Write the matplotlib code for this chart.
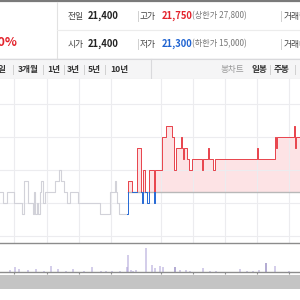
import matplotlib
matplotlib.use("Agg")
import matplotlib.pyplot as plt
from matplotlib.patches import Rectangle
import numpy as np

plt.rcParams['font.family'] = ['Noto Sans CJK KR', 'DejaVu Sans']

# header values
prev_close = "21,400"
open_price = "21,400"
high_price = "21,750"
low_price = "21,300"
upper_limit = "(상한가 27,800)"
lower_limit = "(하한가 15,000)"
change_pct = "0.40%"
period_tabs = ["6일", "3개월", "1년", "3년", "5년", "10년"]
chart_tabs = ["일봉", "주봉"]

REF = 21400  # reference price line

# earlier days (grey step line): time index, price
grey_x = [0, 3, 7, 14, 22, 24, 28, 33, 34, 35, 37, 38, 40, 41, 43, 45, 55, 59, 61,
          64, 67, 70, 78, 100, 110, 115, 116, 117, 119, 127]
grey_p = [21400, 21300, 21400, 21300, 21200, 21500, 21300, 21200, 21400, 21200,
          21300, 21200, 21400, 21500, 21300, 21400, 21500, 21600, 21500,
          21400, 21300, 21400, 21300, 21200, 21400, 21500, 21400, 21300, 21200, 21200]

# current session (red above reference, blue below)
cur_x = [127, 128, 132, 135, 137, 141, 142, 143, 145, 147, 149, 154, 155, 162, 166,
         172, 174, 176, 181, 182, 183, 184, 187, 189, 192, 202, 203, 208, 209, 213,
         215, 257, 258, 275, 276, 277, 294, 295, 296, 300]
cur_p = [21200, 21500, 21400, 21400, 21800, 21400, 21300, 21600, 21400, 21300,
         21600, 21300, 21600, 21900, 22000, 21900, 21600, 21800, 21900, 21800,
         21700, 21800, 21700, 21600, 21700, 21600, 21700, 21800, 21700, 21600,
         21700, 21800, 21700, 21900, 21800, 21900, 22000, 21800, 21900, 21900]

# volume bars
vol_x = [10, 15, 19, 28, 36, 44, 51, 58, 66, 73, 84, 92, 101, 106, 112, 120, 127, 128,
         131, 133, 136, 146, 152, 155, 160, 163, 175, 180, 186, 190, 203, 210, 216,
         240, 247, 253, 259, 266, 275, 289]
vol_v = [2, 5, 3, 2, 3, 1, 6, 3, 1, 3, 1, 5, 1, 1, 1, 1, 5, 17,
         2, 1, 2, 24, 7, 4, 6, 5, 5, 2, 2, 1, 4, 1, 1,
         3, 1, 1, 2, 9, 6, 1]
vol_dark = [175, 266]

grid_x = [14, 47, 79, 111, 161, 193, 225, 257, 289]
grid_y = [21000, 21300, 21600, 21900, 22200]

RED = '#e8424b'
BLUE = '#2468d4'

fig = plt.figure(figsize=(3, 3), dpi=100, facecolor='white')

# header / frame drawn in pixel space
hdr = fig.add_axes([0, 0, 1, 1], zorder=0)
hdr.set_xlim(0, 300)
hdr.set_ylim(300, 0)
hdr.axis('off')

hdr.plot([0, 300], [0.7, 0.7], color='#7a7a7a', lw=1.6)
hdr.plot([56.5, 56.5], [2, 58], color='#e2e2e2', lw=0.8)
hdr.plot([56.5, 300], [29.5, 29.5], color='#ececec', lw=0.8)
hdr.text(17, 42, change_pct, color='#e3222b', fontsize=9, fontweight='bold', ha='right', va='center')

for yy, lab1, v1, lab2, v2, c2, lim in [(16, "전일", prev_close, "고가", high_price, '#e3222b', upper_limit),
                                        (44, "시가", open_price, "저가", low_price, '#1f63d1', lower_limit)]:
    hdr.text(68, yy, lab1, color='#444444', fontsize=6.3, va='center')
    hdr.text(88, yy, v1, color='#222222', fontsize=6.8, fontweight='bold', va='center')
    hdr.plot([137.5, 137.5], [yy - 5, yy + 5], color='#d0d0d0', lw=0.7)
    hdr.text(140, yy, lab2, color='#444444', fontsize=6.3, va='center')
    hdr.text(162, yy, v2, color=c2, fontsize=6.8, fontweight='bold', va='center')
    hdr.text(192, yy, lim, color='#777777', fontsize=5.9, va='center')
    hdr.plot([280.5, 280.5], [yy - 5, yy + 5], color='#d0d0d0', lw=0.7)
    hdr.text(284, yy, "거래량" if yy < 30 else "거래대금", color='#444444', fontsize=6.3, va='center')

# tab bar
hdr.add_patch(Rectangle((0, 58), 300, 21, facecolor='#f5f5f6', edgecolor='none'))
hdr.plot([0, 300], [58.5, 58.5], color='#d9d9dc', lw=0.8)
hdr.plot([0, 300], [78.5, 78.5], color='#d9d9dc', lw=0.8)
hdr.plot([150.5, 150.5], [58.5, 78.5], color='#d9d9dc', lw=0.8)
tab_pos = [7, 18, 47, 67, 88, 110]
for i, (t, px) in enumerate(zip(period_tabs, tab_pos)):
    hdr.text(px, 69.5, t, color='#333333', fontsize=6.2, va='center',
             ha='right' if i == 0 else 'left', fontweight='bold')
for sx in [12, 42, 63, 83, 104]:
    hdr.plot([sx + 0.5, sx + 0.5], [65, 74], color='#d0d0d0', lw=0.7)
hdr.text(221, 69.5, "봉차트", color='#999999', fontsize=6.2, va='center')
hdr.text(251, 69.5, chart_tabs[0], color='#333333', fontsize=6.2, va='center', fontweight='bold')
hdr.text(274, 69.5, chart_tabs[1], color='#333333', fontsize=6.2, va='center', fontweight='bold')
for sx in [269, 294]:
    hdr.plot([sx + 0.5, sx + 0.5], [65, 74], color='#d0d0d0', lw=0.7)

# grey scroll band
hdr.add_patch(Rectangle((0, 275), 300, 14, facecolor='#c4c4c4', edgecolor='none'))

# price chart
ax = fig.add_axes([0, 57 / 300, 1, 164 / 300], zorder=2)
ax.set_xlim(0, 300)
ax.set_ylim(20936, 22427)
ax.set_xticks(grid_x)
ax.set_yticks(grid_y)
ax.grid(True, color='#ececef', lw=0.8)
ax.tick_params(length=0, labelbottom=False, labelleft=False)
for s in ['top', 'left', 'right']:
    ax.spines[s].set_visible(False)
ax.spines['bottom'].set_color('#8c8c8c')
ax.spines['bottom'].set_linewidth(1.0)

ax.step(grey_x, grey_p, where='post', color='#d2d2d9', lw=0.8)

cx = np.array(cur_x)
cp = np.array(cur_p)
fill = ax.fill_between(cx, cp, REF, step='post', color='#fde3e5', lw=0)
fill.set_clip_path(Rectangle((0, REF), 300, 2000, transform=ax.transData))
ax.hlines(REF, 128, 300, color='#b8b8b8', lw=1.0)
red_line, = ax.step(cx, cp, where='post', color=RED, lw=0.7)
red_line.set_clip_path(Rectangle((0, REF), 300, 2000, transform=ax.transData))
blue_line, = ax.step(cx, cp, where='post', color=BLUE, lw=0.7)
blue_line.set_clip_path(Rectangle((0, REF - 2000), 300, 2000, transform=ax.transData))

# volume chart
vax = fig.add_axes([0, 28 / 300, 1, 29 / 300], zorder=1)
vax.set_xlim(0, 300)
vax.set_ylim(0, 29)
vcol = ['#6b5aa8' if x in vol_dark else '#ab9ed6' for x in vol_x]
vax.bar(vol_x, vol_v, width=1.0, color=vcol, lw=0, snap=False)
vax.set_xticks(grid_x)
vax.set_yticks([])
vax.tick_params(axis='x', length=1.5, color='#8c8c8c', labelbottom=False)
for s in ['top', 'left', 'right']:
    vax.spines[s].set_visible(False)
vax.spines['bottom'].set_color('#8c8c8c')
vax.spines['bottom'].set_linewidth(1.0)

fig.savefig('out.png', dpi=100, facecolor='white')
